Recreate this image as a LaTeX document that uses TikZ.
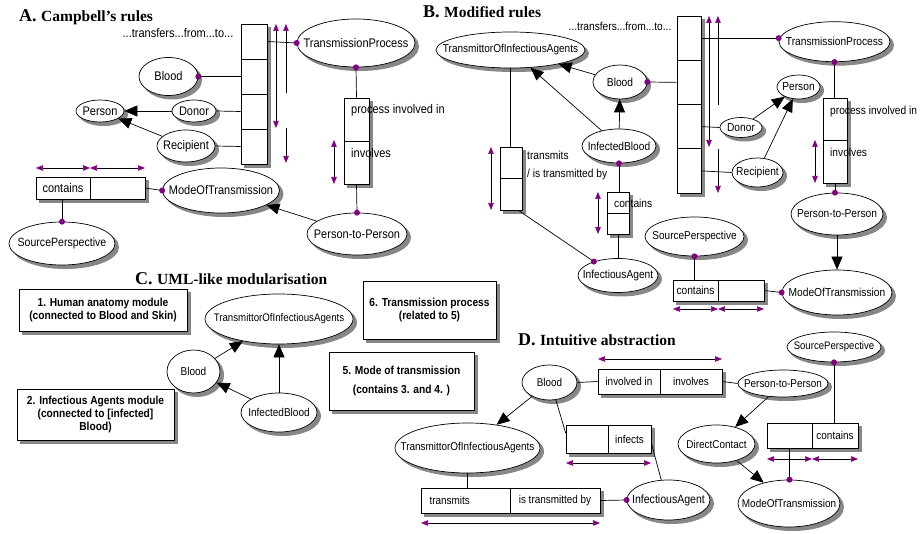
\documentclass[tikz,border=0pt]{standalone}
\usepackage{fontspec}
\usetikzlibrary{shapes.geometric,arrows.meta}
\newfontfamily\dfont[FakeStretch=0.88]{Liberation Sans}
\newfontfamily\tfont{Liberation Serif}
\definecolor{dpurple}{HTML}{800080}
\definecolor{shadc}{RGB}{135,135,135}
\newcommand\mkz[1]{\makebox[0pt]{#1}}
\newcommand\ND[4]{\node[#1,fill=shadc,draw=shadc,line width=1pt,xshift=3.5pt,yshift=-3.5pt] (#2shadow) at (#3) {};\node[#1] (#2) at (#3) {#4};}
\tikzset{
  tsz/.style={font=\dfont\fontsize{#1}{#1}\selectfont},
  ell/.style={ellipse,draw,fill=white,line width=0.7pt,inner sep=0pt},
  cellbox/.style={rectangle,draw,fill=white,line width=0.7pt,inner sep=0pt},
  modbox/.style={rectangle,draw,fill=white,line width=0.9pt,inner sep=0pt,align=center,font=\dfont\bfseries\fontsize{11.6}{13}\selectfont},
  txt/.style={inner sep=0pt},
  ttl/.style={inner sep=0pt,anchor=base west,font=\tfont\bfseries},
  pdot/.style={circle,fill=dpurple,inner sep=0pt,minimum size=6pt},
  conn/.style={line width=0.7pt},
  bigarr/.style={line width=0.7pt,-{Triangle[length=13pt,width=11pt]}},
  dimarr/.style={line width=0.6pt,{Triangle[length=7pt,width=5.5pt,color=dpurple]}-{Triangle[length=7pt,width=5.5pt,color=dpurple]}},
  uparr/.style={line width=0.6pt,{Triangle[length=7pt,width=5.5pt,color=dpurple]}-},
  dnarr/.style={line width=0.6pt,-{Triangle[length=7pt,width=5.5pt,color=dpurple]}}
}
\begin{document}
\begin{tikzpicture}[x=1pt,y=-1pt]
\useasboundingbox[fill=white] (0,0) rectangle (920,534);

% ================= A =================
\begin{scope}[tsz=12.5]
\node[ttl] (titleA) at (19,22) {\fontsize{18}{20}\selectfont A. \fontsize{15.5}{17}\selectfont Campbell’s rules};
\node[txt] (transA) at (178,33) {...transfers...from...to...};
\foreach \i/\yy in {1/41.5,2/76.5,3/111.5,4/146.5}
  {\ND{cellbox,minimum width=26,minimum height=35}{a\i}{254,\yy}{}}
\ND{ell,minimum width=118,minimum height=48}{tpA}{356,43}{\mkz{TransmissionProcess}}
\ND{ell,minimum width=59,minimum height=38}{bloodA}{168.5,76.5}{\mkz{Blood}}
\ND{ell,minimum width=48,minimum height=22}{personA}{100,111}{\mkz{Person}}
\ND{ell,minimum width=44,minimum height=22}{donorA}{194,111}{\mkz{Donor}}
\ND{ell,minimum width=58,minimum height=32}{recA}{186,146}{\mkz{Recipient}}
\ND{cellbox,minimum width=25,minimum height=43}{pA1}{356.5,119.5}{}
\ND{cellbox,minimum width=25,minimum height=43}{pA2}{356.5,162.5}{}
\node[txt,anchor=west] (ptA1) at (351,110) {process involved in};
\node[txt,anchor=west] (ptA2) at (351,153) {involves};
\ND{ell,minimum width=100,minimum height=42}{p2pA}{357,234}{\mkz{Person-to-Person}}
\ND{ell,minimum width=117,minimum height=45}{motA}{221,190.5}{\mkz{ModeOfTransmission}}
\ND{cellbox,minimum width=54,minimum height=22}{cA1}{63,188}{contains}
\ND{cellbox,minimum width=55,minimum height=22}{cA2}{117.5,188}{}
\ND{ell,minimum width=106,minimum height=43,tsz=12}{spA}{62,243.5}{\mkz{SourcePerspective}}

\draw[dimarr] (276,24) -- (276,128);
\draw[uparr] (286,24) -- (286,93);
\draw[dnarr] (286,128) -- (286,163);
\draw[dimarr] (334,140) -- (334,184);
\draw[dimarr] (36,168) -- (90,168);
\draw[dimarr] (90,168) -- (145,168);

\draw[conn] (a1.east) -- (tpA.west);
\draw[conn] (bloodA.east) -- (a2.west);
\draw[conn] (donorA.east) -- (a3.west);
\draw[conn] (recA.east) -- (a4.west);
\draw[bigarr] (donorA) -- (personA);
\draw[bigarr] (recA) -- (personA);
\draw[conn] (tpA.south) -- (pA1.north);
\draw[conn] (pA2.south) -- (p2pA.north);
\draw[bigarr] (p2pA) -- (motA);
\draw[conn] (cA2.east) -- (motA.west);
\draw[conn] (spA.north) -- (spA.north |- cA1.south);
\node[pdot] (dA1) at (tpA.west) {};
\node[pdot] (dA2) at (bloodA.east) {};
\node[pdot] (dA3) at (tpA.south) {};
\node[pdot] (dA4) at (p2pA.north) {};
\node[pdot] (dA5) at (motA.west) {};
\node[pdot] (dA6) at (spA.north) {};
\end{scope}

% ================= B =================
\begin{scope}[tsz=11.6]
\node[ttl] (titleB) at (423,17.5) {\fontsize{18}{20}\selectfont B. \fontsize{15.5}{17}\selectfont Modified rules};
\node[txt] (transB) at (620,26) {...transfers...from...to...};
\ND{ell,minimum width=149,minimum height=36,tsz=11.4}{tioB}{510.5,50}{\mkz{TransmittorOfInfectiousAgents}}
\ND{ell,minimum width=54,minimum height=34}{bloodB}{620,82}{\mkz{Blood}}
\ND{ell,minimum width=74,minimum height=34}{ibB}{619,146}{\mkz{InfectedBlood}}
\foreach \i/\yy in {1/38.125,2/82.375,3/126.625,4/170.875}
  {\ND{cellbox,minimum width=24,minimum height=44.25}{b\i}{689,\yy}{}}
\ND{ell,minimum width=111,minimum height=40}{tpB}{834.5,41.7}{\mkz{TransmissionProcess}}
\ND{ell,minimum width=43,minimum height=24}{personB}{798.5,87}{\mkz{Person}}
\ND{ell,minimum width=42,minimum height=20}{donorB}{741,127.5}{\mkz{Donor}}
\ND{ell,minimum width=51,minimum height=29}{recB}{757.5,172.5}{\mkz{Recipient}}
\ND{cellbox,minimum width=24,minimum height=42.5}{pB1}{835,119.25}{}
\ND{cellbox,minimum width=24,minimum height=42.5}{pB2}{835,161.75}{}
\node[txt,anchor=west] (ptB1) at (830,112) {process involved in};
\node[txt,anchor=west] (ptB2) at (830,152) {involves};
\ND{ell,minimum width=92,minimum height=42}{p2pB}{837,214}{\mkz{Person-to-Person}}
\ND{ell,minimum width=110,minimum height=45}{motB}{837,292.5}{\mkz{ModeOfTransmission}}
\ND{cellbox,minimum width=45,minimum height=21}{cBh1}{695.5,290.5}{contains}
\ND{cellbox,minimum width=46,minimum height=21}{cBh2}{741,290.5}{}
\ND{ell,minimum width=99,minimum height=39,tsz=11.4}{spB}{694.5,236.5}{\mkz{SourcePerspective}}
\ND{cellbox,minimum width=22,minimum height=31.5}{tB1}{511,162.75}{}
\ND{cellbox,minimum width=22,minimum height=31.5}{tB2}{511,194.25}{}
\node[txt,anchor=west] (ttB1) at (527,155) {transmits};
\node[txt,anchor=west] (ttB2) at (527,175) {/ is transmitted by};
\ND{cellbox,minimum width=22,minimum height=21}{cB1}{618,202.5}{}
\ND{cellbox,minimum width=22,minimum height=21}{cB2}{618,223.5}{}
\node[txt,anchor=west] (ctB) at (614,203) {contains};
\ND{ell,minimum width=80,minimum height=34}{iaB}{618,275.5}{\mkz{InfectiousAgent}}

\draw[dimarr] (709,16) -- (709,147);
\draw[uparr] (718,16) -- (718,105);
\draw[dnarr] (718,149) -- (718,193);
\draw[dimarr] (815,140) -- (815,183);
\draw[dimarr] (491,147) -- (491,210);
\draw[dimarr] (598,192) -- (598,234);
\draw[dimarr] (673,309) -- (718,309);
\draw[dimarr] (718,309) -- (764,309);

\draw[conn] (b1.east) -- (b1.east -| tpB.west);
\draw[conn] (bloodB.east) -- (b2.west);
\draw[conn] (b3.east) -- (donorB.west);
\draw[conn] (b4.east) -- (recB.west);
\draw[bigarr] (donorB) -- (personB);
\draw[bigarr] (recB) -- (personB);
\draw[bigarr] (bloodB) -- (tioB);
\draw[bigarr] (ibB) -- (bloodB);
\draw[bigarr] (ibB) -- (tioB);
\draw[conn] (tioB.south) -- (tioB.south |- tB1.north);
\draw[conn] ([xshift=-4pt]tB2.south east) -- (iaB.150);
\draw[conn] (ibB.south) -- (ibB.south |- cB1.north);
\draw[conn] (cB2.south) -- (cB2.south |- iaB.north);
\draw[conn] (tpB.south) -- (tpB.south |- pB1.north);
\draw[conn] (pB2.south) -- (pB2.south |- p2pB.north);
\draw[bigarr] (p2pB) -- (motB);
\draw[conn] (cBh2.east) -- (motB.west);
\draw[conn] (spB.south) -- (spB.south |- cBh1.north);
\node[pdot] (dB1) at (b1.east -| tpB.west) {};
\node[pdot] (dB2) at (bloodB.east) {};
\node[pdot] (dB3) at (ibB.south) {};
\node[pdot] (dB4) at (iaB.150) {};
\node[pdot] (dB5) at (tpB.south) {};
\node[pdot] (dB6) at (pB2.south |- p2pB.north) {};
\node[pdot] (dB7) at (motB.west) {};
\node[pdot] (dB8) at (spB.south) {};
\end{scope}

% ================= C =================
\begin{scope}[tsz=11.4]
\node[ttl] (titleC) at (135,285) {\fontsize{18}{20}\selectfont C. \fontsize{15.5}{17}\selectfont UML-like modularisation};
\ND{modbox,minimum width=168,minimum height=42}{m1}{103,310}{1. Human anatomy module\\(connected to Blood and Skin)}
\ND{modbox,minimum width=157,minimum height=51}{m2}{95.5,414.5}{2. Infectious Agents module\\(connected to [infected]\\Blood)}
\ND{modbox,minimum width=133,minimum height=58}{m6}{429.5,310}{6. Transmission process\\(related to 5)}
\ND{modbox,minimum width=145,minimum height=58}{m5}{401.5,381}{5. Mode of transmission\\[6pt](contains 3. and 4. )}
\ND{ell,minimum width=148,minimum height=50,tsz=11}{tioC}{279,319}{\mkz{TransmittorOfInfectiousAgents}}
\ND{ell,minimum width=53,minimum height=43}{bloodC}{193.5,371.5}{\mkz{Blood}}
\ND{ell,minimum width=76,minimum height=39}{ibC}{279,412.5}{\mkz{InfectedBlood}}
\draw[bigarr] (bloodC) -- (tioC);
\draw[bigarr] (ibC) -- (bloodC);
\draw[bigarr] (ibC) -- (tioC);
\end{scope}

% ================= D =================
\begin{scope}[tsz=11.3]
\node[ttl] (titleD) at (518,345) {\fontsize{18}{20}\selectfont D. \fontsize{15.5}{17}\selectfont Intuitive abstraction};
\ND{ell,minimum width=55,minimum height=35}{bloodD}{549.5,382.5}{\mkz{Blood}}
\ND{cellbox,minimum width=62,minimum height=25}{iv1}{629,381.5}{involved in}
\ND{cellbox,minimum width=62,minimum height=25}{iv2}{691,381.5}{involves}
\ND{ell,minimum width=90,minimum height=27}{p2pD}{783,383.5}{\mkz{Person-to-Person}}
\ND{ell,minimum width=94,minimum height=30,tsz=10.9}{spD}{834,347}{\mkz{SourcePerspective}}
\ND{cellbox,minimum width=45,minimum height=25}{cD1}{789.5,435.5}{}
\ND{cellbox,minimum width=46,minimum height=25}{cD2}{835,435.5}{contains}
\ND{ell,minimum width=102,minimum height=47}{motD}{789,503.5}{\mkz{ModeOfTransmission}}
\ND{ell,minimum width=77,minimum height=38}{dcD}{716.5,444}{\mkz{DirectContact}}
\ND{ell,minimum width=145,minimum height=50}{tioD}{467.5,448}{\mkz{TransmittorOfInfectiousAgents}}
\ND{cellbox,minimum width=89,minimum height=25,text width=72,align=left}{tD1}{465.5,500.5}{transmits}
\ND{cellbox,minimum width=90,minimum height=25}{tD2}{555,500.5}{is transmitted by}
\ND{ell,minimum width=83,minimum height=40,tsz=12}{iaD}{668.5,500}{\mkz{InfectiousAgent}}
\ND{cellbox,minimum width=42,minimum height=28}{if1}{587,439}{}
\ND{cellbox,minimum width=43,minimum height=28}{if2}{629.5,439}{infects}

\draw[dimarr] (598,359) -- (722,359);
\draw[dimarr] (767,459) -- (812,459);
\draw[dimarr] (812,459) -- (858,459);
\draw[dimarr] (421,523) -- (600,523);
\draw[dimarr] (566,463) -- (651,463);

\draw[conn] (bloodD.east) -- (iv1.west);
\draw[conn] (iv2.east) -- (p2pD.west);
\draw[bigarr] (bloodD) -- (tioD);
\draw[conn] (tioD.south) -- (tioD.south |- tD1.north);
\draw[conn] (tD2.east) -- (iaD.west);
\draw[conn] (bloodD.290) -- ([yshift=6pt]if1.west);
\draw[conn] ([yshift=-4pt]if2.east) -- (iaD.110);
\draw[bigarr] (p2pD) -- (dcD);
\draw[bigarr] (dcD) -- (motD);
\draw[conn] (spD.south) -- (spD.south |- cD2.north);
\draw[conn] (cD1.south) -- (cD1.south |- motD.north);
\node[pdot] (dD1) at (iaD.west) {};
\node[pdot] (dD2) at (spD.south) {};
\node[pdot] (dD3) at (cD1.south |- motD.north) {};
\end{scope}
\end{tikzpicture}
\end{document}
